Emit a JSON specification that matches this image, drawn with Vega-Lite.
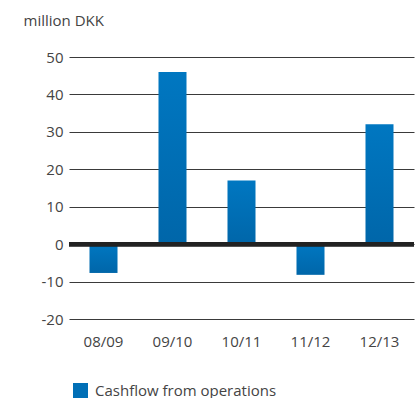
{
  "$schema": "https://vega.github.io/schema/vega-lite/v6.json",
  "width": 345,
  "height": 262,
  "autosize": {"type": "none"},
  "padding": {"left": 69, "top": 57, "right": 3, "bottom": 79},
  "background": "white",
  "config": {
    "view": {"stroke": null},
    "font": "Open Sans",
    "axis": {"labelFont": "Open Sans", "labelColor": "#444", "labelFontSize": 15, "titleFont": "Open Sans", "labelOverlap": false},
    "axisX": {"domain": false, "ticks": false, "labelPadding": 15, "labelAngle": 0, "grid": false},
    "axisY": {
      "tickCount": 8,
      "labelExpr": "replace(datum.label, '\u2212', '-')",
      "titleAngle": 0, "titleX": -46, "titleY": -37,
      "titleAlign": "left", "titleBaseline": "middle", "titleFontSize": 15,
      "titleFontWeight": "normal", "titleColor": "#444",
      "domain": false, "ticks": false, "labelPadding": 6,
      "grid": true, "gridColor": "#3a3a3a", "gridWidth": 1, "gridOpacity": 1
    },
    "legend": {"labelFont": "Open Sans"}
  },
  "data": {
    "values": [
      {"year": "08/09", "value": -7.7, "series": "Cashflow from operations"},
      {"year": "09/10", "value": 46, "series": "Cashflow from operations"},
      {"year": "10/11", "value": 17, "series": "Cashflow from operations"},
      {"year": "11/12", "value": -8.2, "series": "Cashflow from operations"},
      {"year": "12/13", "value": 32, "series": "Cashflow from operations"}
    ]
  },
  "layer": [
    {
      "mark": {
        "type": "bar",
        "fill": {"gradient": "linear", "x1": 0, "y1": 0, "x2": 0, "y2": 1,
          "stops": [{"offset": 0, "color": "#0077c1"}, {"offset": 1, "color": "#0066a9"}]}
      },
      "encoding": {
        "x": {
          "field": "year", "type": "nominal", "sort": null, "title": null,
          "scale": {"paddingInner": 0.594, "paddingOuter": 0.297}
        },
        "y": {
          "field": "value", "type": "quantitative", "title": "million DKK",
          "scale": {"domain": [-20, 50], "nice": false}
        }
      }
    },
    {
      "mark": {"type": "point", "opacity": 0, "shape": "square", "filled": true},
      "encoding": {
        "x": {"field": "year", "type": "nominal", "sort": null, "title": null},
        "y": {"field": "value", "type": "quantitative", "title": "million DKK"},
        "color": {
          "field": "series", "type": "nominal",
          "scale": {"range": ["#006fb6"]},
          "legend": {
            "title": null, "orient": "none", "legendX": 4, "legendY": 326,
            "symbolType": "square", "symbolSize": 225, "symbolOpacity": 1,
            "symbolStrokeWidth": 0, "labelLimit": 400,
            "labelFontSize": 15, "labelColor": "#444", "labelOffset": 7
          }
        }
      }
    },
    {
      "mark": {"type": "rule", "color": "#222", "strokeWidth": 4},
      "encoding": {"y": {"datum": 0}}
    }
  ]
}
